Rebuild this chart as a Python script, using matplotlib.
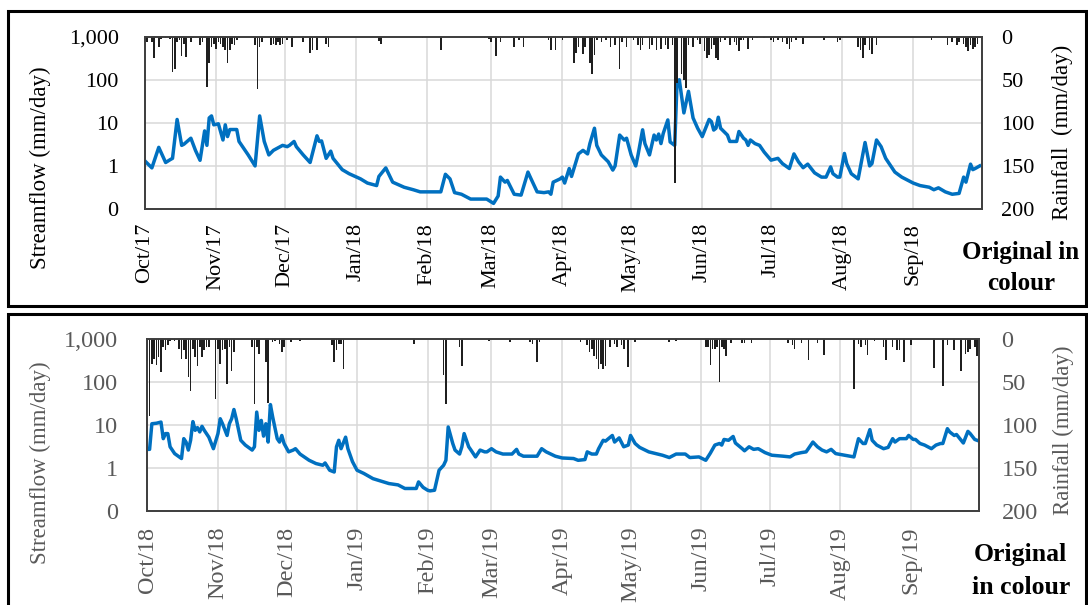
import matplotlib
matplotlib.use("Agg")
import numpy as np
import pandas as pd
import matplotlib.pyplot as plt
import matplotlib.dates as mdates
import matplotlib.ticker as mticker
from matplotlib.patches import Rectangle

plt.rcParams['font.family'] = ['Liberation Serif', 'DejaVu Serif']

# ---- data: water year 2017/18 (days counted from 1 Oct) ----
start_1 = "2017-10-01"
flow_day_1 = [0, 3, 6, 9, 11, 12, 14, 16, 17, 20, 22, 24, 26, 27, 28, 29, 30, 32, 34, 35, 36, 37, 40, 41,
              45, 48, 50, 52, 54, 56, 59, 60, 62, 63, 65, 66, 69, 72, 75, 76, 77, 79, 81, 82, 86, 89, 94,
              97, 101, 102, 105, 108, 113, 117, 120, 129, 131, 133, 135, 138, 142, 149, 152, 154, 155,
              157, 158, 161, 164, 167, 168, 171, 174, 176, 177, 178, 181, 182, 183, 185, 186, 189, 191,
              193, 194, 196, 197, 199, 202, 204, 205, 207, 209, 210, 212, 214, 215, 217, 218, 220, 222,
              223, 224, 225, 226, 228, 229, 231, 232, 233, 235, 237, 239, 241, 243, 246, 247, 248, 249,
              250, 251, 254, 255, 258, 259, 261, 262, 263, 264, 266, 268, 270, 273, 276, 278, 281, 283,
              285, 287, 289, 292, 295, 297, 299, 300, 302, 303, 305, 306, 308, 311, 314, 316, 317, 319,
              321, 323, 327, 330, 335, 338, 342, 344, 346, 349, 352, 355, 357, 358, 360, 361, 362, 364]
flow_val_1 = [1.3, 0.9, 2.7, 1.2, 1.4, 1.5, 12, 3.0, 3.2, 4.4, 2.3, 1.35, 6.5, 3.0, 13, 14.5, 9, 9.5, 4,
              9, 4.8, 7, 7, 3.7, 1.8, 1.0, 14.5, 3.7, 1.8, 2.3, 2.8, 3.0, 2.8, 3.0, 3.7, 2.8, 1.8, 1.2,
              5, 3.7, 3.8, 1.5, 2.2, 1.5, 0.82, 0.66, 0.5, 0.4, 0.35, 0.57, 0.9, 0.42, 0.32, 0.28, 0.25,
              0.25, 0.64, 0.5, 0.24, 0.22, 0.17, 0.17, 0.135, 0.2, 0.55, 0.42, 0.46, 0.22, 0.21, 0.72,
              0.55, 0.25, 0.24, 0.25, 0.22, 0.42, 0.5, 0.55, 0.4, 0.87, 0.57, 1.9, 2.3, 1.9, 3.3, 7.5,
              3.0, 1.8, 1.25, 0.8, 1.0, 5.2, 4, 4.4, 1.8, 1.0, 1.8, 6.9, 3.3, 1.8, 5.2, 4, 5.5, 3.3,
              5.7, 11.7, 3.6, 3.0, 85, 100, 17, 54, 13, 7.5, 4.8, 12, 10.7, 6.8, 7.5, 13.5, 7.5, 5.2,
              3.7, 3.7, 6.3, 4.4, 4, 3.0, 4, 3.3, 3.0, 2.1, 1.36, 1.5, 1.13, 0.87, 1.9, 1.24, 0.91, 1.1,
              0.69, 0.55, 0.55, 0.95, 0.66, 0.55, 0.55, 1.95, 1.13, 0.66, 0.5, 3.5, 1.0, 1.13, 4, 2.8,
              1.5, 0.72, 0.55, 0.4, 0.35, 0.32, 0.28, 0.31, 0.25, 0.22, 0.23, 0.55, 0.42, 1.1, 0.82,
              0.87, 1.0]
rain_day_1 = [1, 3, 4, 6, 7, 9, 11, 12, 13, 14, 15, 16, 17, 18, 20, 21, 24, 25, 27, 28, 29, 30, 31, 32,
              33, 34, 35, 36, 37, 38, 39, 40, 41, 48, 49, 50, 51, 55, 56, 57, 58, 59, 60, 62, 64, 65,
              69, 70, 72, 73, 75, 79, 80, 102, 103, 121, 129, 148, 150, 151, 153, 155, 161, 163, 165,
              176, 177, 179, 182, 187, 188, 189, 191, 192, 194, 195, 196, 197, 199, 201, 203, 205, 207,
              208, 210, 213, 215, 216, 217, 220, 221, 223, 225, 227, 228, 230, 231, 232, 234, 235, 236,
              237, 239, 241, 242, 244, 245, 246, 247, 248, 249, 250, 251, 253, 255, 257, 258, 259, 260,
              261, 263, 265, 267, 270, 273, 274, 276, 278, 280, 281, 282, 284, 287, 296, 302, 303, 311,
              312, 313, 314, 316, 317, 319, 320, 343, 350, 352, 354, 355, 357, 358, 359, 360, 361, 362,
              363]
rain_val_1 = [6, 6, 25, 12, 3, 2, 3, 41, 37, 6, 4, 22, 8, 23, 6, 2, 10, 6, 58, 31, 12, 8, 14, 6, 8, 12,
              16, 31, 16, 8, 10, 4, 2, 10, 61, 12, 6, 10, 8, 10, 6, 10, 8, 4, 12, 2, 6, 2, 19, 16, 16,
              8, 12, 5, 9, 2, 15, 2, 3, 6, 22, 6, 12, 4, 12, 4, 16, 16, 4, 31, 19, 12, 20, 12, 31, 43,
              21, 4, 6, 4, 12, 10, 37, 6, 12, 4, 10, 16, 10, 14, 10, 16, 14, 10, 14, 10, 170, 54, 43,
              50, 60, 10, 12, 4, 8, 17, 25, 21, 14, 10, 25, 27, 6, 4, 10, 6, 10, 17, 4, 4, 14, 4, 2, 2,
              4, 6, 4, 6, 8, 14, 6, 4, 8, 4, 6, 4, 12, 16, 25, 10, 16, 20, 10, 2, 4, 10, 6, 10, 6, 8,
              12, 17, 10, 14, 12, 8]

# ---- data: water year 2018/19 ----
start_2 = "2018-10-01"
flow_day_2 = [0, 1, 2, 4, 6, 7, 8, 9, 10, 12, 15, 16, 17, 18, 19, 20, 21, 22, 23, 24, 25, 27, 29, 31, 32,
              33, 35, 36, 37, 38, 39, 41, 43, 46, 47, 48, 49, 50, 51, 52, 53, 54, 55, 57, 58, 59, 60,
              62, 64, 65, 67, 71, 74, 77, 78, 80, 82, 83, 84, 85, 87, 88, 90, 92, 95, 99, 102, 106,
              110, 113, 118, 119, 121, 123, 124, 126, 128, 130, 131, 132, 134, 135, 137, 138, 139, 141,
              142, 144, 146, 148, 149, 151, 153, 156, 160, 162, 163, 165, 171, 173, 175, 179, 182, 187,
              189, 192, 193, 195, 197, 198, 200, 201, 204, 205, 207, 209, 211, 212, 214, 216, 220, 223,
              226, 229, 232, 234, 236, 238, 242, 245, 247, 249, 251, 252, 253, 255, 257, 258, 261, 262,
              264, 266, 268, 271, 274, 279, 282, 284, 287, 289, 290, 292, 294, 296, 298, 300, 302, 306,
              310, 312, 314, 315, 317, 318, 320, 323, 325, 327, 328, 330, 333, 334, 336, 337, 339, 341,
              344, 346, 348, 349, 351, 352, 354, 355, 357, 358, 360, 361, 363, 364]
flow_val_2 = [2.7, 2.7, 10.7, 11, 11.7, 4.8, 6.3, 6.3, 3.1, 2.15, 1.65, 4.8, 4, 2.6, 4.4, 12, 7.5, 8.7,
              6.9, 9.3, 7.5, 5.2, 2.8, 6.3, 14, 10.7, 5.7, 10.7, 14, 23, 14, 4.4, 3.4, 2.6, 3.1, 20,
              7.5, 12.8, 5.5, 10.7, 4, 30, 15.4, 4.8, 4, 5.7, 3.7, 2.36, 2.6, 2.8, 2.1, 1.5, 1.26,
              1.15, 1.3, 0.88, 0.8, 3.1, 4.4, 2.8, 5.2, 2.8, 1.4, 0.88, 0.74, 0.56, 0.5, 0.43, 0.4,
              0.33, 0.33, 0.47, 0.35, 0.3, 0.29, 0.3, 0.88, 1.15, 1.5, 9, 3.7, 2.6, 2.1, 3.1, 6.3, 3.1,
              2.6, 1.8, 2.6, 2.36, 2.36, 2.8, 2.36, 2.1, 2.1, 2.7, 2.1, 1.87, 1.87, 2.8, 2.36, 1.87,
              1.7, 1.65, 1.5, 1.56, 2.36, 2.1, 2.1, 2.8, 4.4, 4.2, 5.7, 4, 5, 3.1, 3.4, 5.7, 3.7, 3.0,
              2.36, 2.15, 1.97, 1.74, 2.1, 2.1, 2.1, 1.74, 1.8, 1.5, 2.2, 3.4, 3.7, 3.4, 4.6, 4.4, 5.4,
              3.8, 2.8, 2.5, 3.1, 2.7, 2.8, 2.27, 1.97, 1.87, 1.8, 2.1, 2.27, 2.36, 2.8, 4, 3.1, 2.6,
              2.36, 2.7, 2.15, 1.97, 1.8, 4.8, 3.7, 3.7, 7.8, 4.4, 3.4, 2.8, 3.0, 4.8, 4, 4.8, 4.8, 5.7,
              4.6, 4.6, 3.7, 3.4, 2.8, 3.4, 3.7, 3.7, 8.2, 6.9, 5.7, 6, 4.4, 3.8, 7.1, 6.3, 4.6, 4.4]
rain_day_2 = [0, 1, 2, 3, 4, 5, 6, 7, 8, 9, 10, 12, 14, 15, 16, 17, 18, 19, 20, 21, 22, 23, 24, 25, 26,
              27, 30, 31, 32, 33, 34, 35, 36, 37, 38, 46, 47, 48, 49, 52, 53, 55, 56, 58, 59, 60, 63,
              67, 81, 82, 83, 84, 85, 86, 117, 130, 131, 137, 138, 150, 159, 168, 169, 171, 172, 190,
              193, 194, 195, 196, 197, 198, 199, 200, 201, 203, 205, 206, 208, 209, 211, 214, 229, 232,
              245, 246, 247, 248, 249, 250, 251, 252, 253, 254, 256, 261, 262, 265, 281, 283, 284, 287,
              290, 294, 297, 310, 312, 313, 315, 316, 319, 323, 324, 327, 329, 330, 332, 335, 345, 349,
              351, 354, 357, 359, 360, 361, 363, 364]
rain_val_2 = [25, 90, 29, 23, 30, 21, 38, 9, 12, 7, 2, 2, 11, 23, 13, 23, 44, 60, 11, 21, 31, 9, 21, 13,
              9, 9, 70, 11, 29, 13, 11, 52, 9, 37, 15, 9, 76, 9, 17, 27, 74, 3, 2, 5, 15, 9, 3, 2, 7, 27,
              13, 5, 5, 35, 5, 42, 76, 9, 31, 2, 3, 3, 5, 27, 3, 3, 7, 15, 11, 19, 23, 35, 29, 35, 31, 9,
              5, 9, 7, 11, 32, 3, 3, 2, 9, 9, 30, 11, 11, 9, 50, 9, 11, 19, 4, 4, 4, 4, 4, 7, 11, 4, 24,
              4, 18, 58, 5, 9, 7, 18, 2, 9, 24, 9, 12, 13, 27, 7, 34, 54, 7, 13, 37, 17, 15, 11, 9, 20]

W, H = 1088, 605


def fx(px):
    return px / W


def fy(py):
    return 1 - py / H


def draw_panel(fig, box, start, q_day, q_val, r_day, r_val, color, pads, size):
    """One streamflow / rainfall panel; box = (left, top, right, bottom) in pixels"""
    left, top, right, bottom = box
    ax = fig.add_axes([fx(left), fy(bottom), fx(right) - fx(left), fy(top) - fy(bottom)])
    t0 = pd.Timestamp(start)
    q_dates = t0 + pd.to_timedelta(q_day, unit='D')
    r_dates = t0 + pd.to_timedelta(r_day, unit='D')

    ax.plot(q_dates, q_val, color='#0070C0', lw=2.5, solid_joinstyle='round', zorder=3)
    ax.set_yscale('log')
    ax.set_ylim(0.1, 1000)
    ax.yaxis.set_major_locator(mticker.FixedLocator([0.1, 1, 10, 100, 1000]))
    ax.yaxis.set_minor_locator(mticker.NullLocator())
    ax.yaxis.set_major_formatter(mticker.FuncFormatter(lambda v, p: f"{v:,.0f}"))
    ax.set_xlim(t0, t0 + pd.Timedelta(days=365))
    ax.xaxis.set_major_locator(mticker.FixedLocator(mdates.date2num(pd.date_range(t0, periods=12, freq='MS'))))
    ax.xaxis.set_major_formatter(mdates.DateFormatter('%b/%y'))
    ax.grid(True, color='#d9d9d9', lw=1.1)
    ax.set_axisbelow(True)
    ax.tick_params(axis='y', length=0, pad=pads[0], labelsize=size, labelcolor=color)
    ax.tick_params(axis='x', length=0, pad=pads[1], labelsize=size, labelcolor=color, labelrotation=90)

    # rainfall hangs from the top on an inverted axis
    ax2 = ax.twinx()
    ax2.bar(r_dates, r_val, width=0.7, color='#1f1f1f', linewidth=0)
    ax2.set_ylim(200, 0)
    ax2.set_yticks([0, 50, 100, 150, 200])
    ax2.tick_params(axis='y', length=0, pad=pads[2], labelsize=size, labelcolor=color)
    for a in (ax, ax2):
        for s in a.spines.values():
            s.set_color('#404040')
            s.set_linewidth(1.3)
    return ax


fig = plt.figure(figsize=(W / 100, H / 100), dpi=100)

draw_panel(fig, (145, 36.7, 982, 209), start_1, flow_day_1, flow_val_1, rain_day_1, rain_val_1,
           'black', (19, 10, 14), 16)
draw_panel(fig, (147.3, 339.3, 979.3, 510.7), start_2, flow_day_2, flow_val_2, rain_day_2, rain_val_2,
           '#595959', (21, 11.5, 16), 17.5)

# axis titles
fig.text(fx(40), fy(168), 'Streamflow (mm/day)', rotation=90, ha='center', va='center', fontsize=16.5)
fig.text(fx(1062), fy(132), 'Rainfall  (mm/day)', rotation=90, ha='center', va='center', fontsize=16.5)
fig.text(fx(40), fy(463), 'Streamflow (mm/day)', rotation=90, ha='center', va='center', fontsize=16.5,
         color='#595959')
fig.text(fx(1063), fy(430), 'Rainfall (mm/day)', rotation=90, ha='center', va='center', fontsize=16.5,
         color='#595959')

# "Original in colour" notes
fig.text(fx(1021), fy(252), 'Original in', ha='center', va='center', fontsize=18, fontweight='bold')
fig.text(fx(1021), fy(283), 'colour', ha='center', va='center', fontsize=18, fontweight='bold')
fig.text(fx(1020), fy(555), 'Original', ha='center', va='center', fontsize=18.5, fontweight='bold')
fig.text(fx(1021), fy(587), 'in colour', ha='center', va='center', fontsize=18.5, fontweight='bold')

# frame boxes around both panels
fig.patches.append(Rectangle((fx(8), fy(306)), fx(1086) - fx(8), fy(11) - fy(306),
                             transform=fig.transFigure, fill=False, ec='black', lw=2.2))
fig.patches.append(Rectangle((fx(8), fy(640)), fx(1086) - fx(8), fy(314) - fy(640),
                             transform=fig.transFigure, fill=False, ec='black', lw=2.2))

fig.savefig('out.png', dpi=100)
